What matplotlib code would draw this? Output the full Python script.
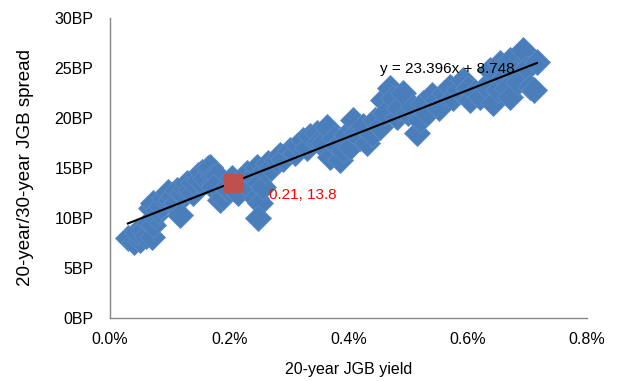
import matplotlib.pyplot as plt
from matplotlib.ticker import FuncFormatter

plt.rcParams['font.family'] = ['Liberation Sans', 'DejaVu Sans']

# 20-year JGB yield (%) and 20/30-year spread (BP)
yield_20y = [0.030, 0.040, 0.050, 0.045, 0.055, 0.060, 0.065, 0.070, 0.072, 0.075,
             0.068, 0.072, 0.080, 0.085, 0.090, 0.097, 0.100, 0.105, 0.110, 0.112,
             0.117, 0.120, 0.125, 0.129, 0.135, 0.139, 0.140, 0.148, 0.150, 0.155,
             0.160, 0.165, 0.168, 0.172, 0.175, 0.180, 0.173, 0.185, 0.190, 0.195,
             0.200, 0.205, 0.210, 0.215, 0.220, 0.223, 0.230, 0.235, 0.240, 0.247,
             0.245, 0.250, 0.252, 0.248, 0.257, 0.260, 0.265, 0.270, 0.280, 0.285,
             0.290, 0.302, 0.310, 0.315, 0.324, 0.330, 0.335, 0.347, 0.350, 0.357,
             0.364, 0.369, 0.375, 0.380, 0.386, 0.390, 0.395, 0.403, 0.408, 0.412,
             0.420, 0.425, 0.431, 0.440, 0.445, 0.453, 0.458, 0.462, 0.470, 0.475,
             0.481, 0.485, 0.492, 0.500, 0.508, 0.515, 0.520, 0.525, 0.532, 0.540,
             0.549, 0.552, 0.560, 0.570, 0.575, 0.585, 0.592, 0.600, 0.604, 0.612,
             0.621, 0.630, 0.638, 0.643, 0.650, 0.654, 0.660, 0.665, 0.671, 0.671,
             0.680, 0.685, 0.693, 0.700, 0.705, 0.711, 0.716]
spread = [8.0, 7.6, 7.8, 8.6, 8.8, 8.2, 9.5, 8.1, 9.3, 10.2,
          11.0, 11.5, 10.8, 11.2, 12.0, 12.6, 11.8, 12.2, 11.5, 12.8,
          10.3, 12.5, 13.0, 13.5, 12.8, 12.5, 13.6, 14.3, 13.8, 14.6,
          14.0, 15.0, 15.1, 14.2, 13.5, 14.3, 13.1, 11.8, 12.1, 13.0,
          12.8, 14.0, 13.2, 12.5, 13.8, 13.8, 14.5, 13.0, 14.2, 15.1,
          12.0, 13.5, 11.5, 10.0, 13.1, 14.8, 15.5, 15.0, 15.8, 16.3,
          15.9, 16.8, 16.5, 17.3, 17.8, 17.0, 18.2, 18.5, 17.6, 17.5,
          19.1, 16.1, 18.0, 17.2, 15.8, 16.8, 18.3, 17.1, 19.8, 18.5,
          18.0, 19.2, 17.5, 18.4, 19.8, 19.1, 21.8, 20.5, 23.0, 22.0,
          20.1, 21.0, 22.5, 20.5, 21.1, 18.5, 19.8, 21.5, 20.5, 22.3,
          21.8, 21.0, 22.5, 23.1, 22.0, 22.8, 23.8, 23.0, 21.8, 22.6,
          22.1, 23.2, 24.8, 21.5, 22.8, 25.5, 24.0, 23.0, 22.1, 25.8,
          24.5, 23.6, 26.8, 25.0, 23.1, 22.8, 25.6]

# latest observation
latest_x = 0.207
latest_y = 13.45
latest_label = '0.21, 13.8'

# linear trend shown on the chart
slope = 23.396
intercept = 8.748

blue = '#4A7EBB'
red = '#C0504D'

fig = plt.figure(figsize=(6.26, 3.81), dpi=100)
ax = fig.add_axes([0.1757, 0.1654, 0.7620, 0.7874])

ax.plot(yield_20y, spread, linestyle='none', marker='D', markersize=13,
        markerfacecolor=blue, markeredgecolor='#5B8BC6', markeredgewidth=0.6,
        zorder=2)

x0, x1 = min(yield_20y), max(yield_20y)
ax.plot([x0, x1], [slope * x0 + intercept, slope * x1 + intercept],
        color='black', linewidth=1.5, zorder=3)

ax.plot([latest_x], [latest_y], linestyle='none', marker='s', markersize=13.5,
        markerfacecolor=red, markeredgecolor=red, zorder=4)
ax.text(0.267, 12.3, latest_label, color='#FF0000', fontsize=11,
        ha='left', va='center', zorder=5)
ax.text(0.453, 24.5, f'y = {slope:.3f}x + {intercept:.3f}', color='black',
        fontsize=11, ha='left', va='baseline', zorder=5)

ax.set_xlim(0, 0.8)
ax.set_ylim(0, 30)
ax.set_xticks([0, 0.2, 0.4, 0.6, 0.8])
ax.set_yticks(range(0, 31, 5))
ax.xaxis.set_major_formatter(FuncFormatter(lambda v, p: f'{v:.1f}%'))
ax.yaxis.set_major_formatter(FuncFormatter(lambda v, p: f'{v:.0f}BP'))
ax.tick_params(length=0, labelsize=11.5)
ax.tick_params(axis='x', pad=10)
ax.tick_params(axis='y', pad=12)

for side in ['top', 'right']:
    ax.spines[side].set_visible(False)
for side in ['left', 'bottom']:
    ax.spines[side].set_color('#868686')
    ax.spines[side].set_linewidth(1)

ax.set_xlabel('20-year JGB yield', fontsize=11.5, va='center')
ax.xaxis.set_label_coords(0.5, -0.173)
ax.set_ylabel('20-year/30-year JGB spread', fontsize=13.5, va='center')
ax.yaxis.set_label_coords(-0.178, 0.5)

fig.savefig('out.png', dpi=100)
